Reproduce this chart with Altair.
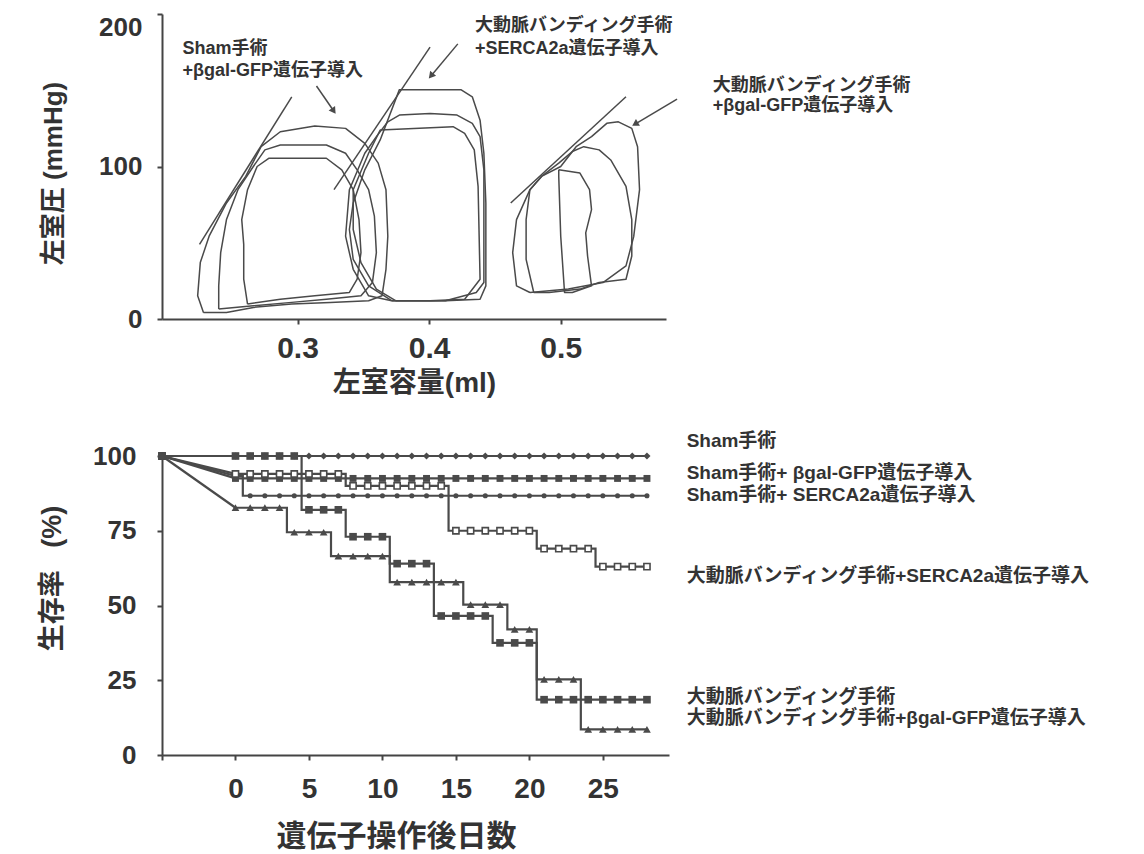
import altair as alt
import pandas as pd

GRAY = "#4a4a4a"
TEXT = "#333333"
FONT = "Liberation Sans, Noto Sans CJK JP"

# ---------------- Upper panel: pressure-volume loops (volume ml, pressure mmHg) ----------------
SHAM_LOOP_A = [(0.2285, 4.3), (0.2241, 15.2), (0.2261, 37.0), (0.2328, 54.3), (0.2460, 76.1),
               (0.2606, 93.5), (0.2723, 113.0), (0.2869, 122.8), (0.3131, 126.5), (0.3365, 125.0),
               (0.3511, 115.2), (0.3613, 102.2), (0.3672, 84.8), (0.3686, 54.3), (0.3672, 32.6),
               (0.3642, 15.2), (0.3540, 12.0), (0.3248, 10.9), (0.2956, 9.8), (0.2664, 7.6),
               (0.2460, 4.3), (0.2285, 4.3)]
SHAM_LOOP_B = [(0.2401, 6.5), (0.2401, 21.7), (0.2416, 43.5), (0.2460, 65.2), (0.2547, 84.8),
               (0.2664, 100.0), (0.2752, 110.9), (0.2869, 114.1), (0.3219, 114.1), (0.3365, 108.7),
               (0.3453, 97.8), (0.3540, 84.8), (0.3584, 67.4), (0.3599, 43.5), (0.3569, 23.9),
               (0.3482, 15.2), (0.3219, 13.0), (0.2956, 10.9), (0.2664, 8.7), (0.2401, 6.5)]
SHAM_LOOP_C = [(0.2620, 9.8), (0.2591, 26.1), (0.2591, 48.9), (0.2576, 65.2), (0.2620, 84.8),
               (0.2693, 100.0), (0.2781, 105.4), (0.3219, 105.4), (0.3336, 97.8), (0.3423, 84.8),
               (0.3467, 65.2), (0.3482, 43.5), (0.3453, 26.1), (0.3394, 17.4), (0.3131, 15.2),
               (0.2869, 13.0), (0.2620, 9.8)]
SERCA_LOOP_A = [(0.3715, 12.0), (0.3540, 21.7), (0.3423, 39.1), (0.3394, 58.7), (0.3423, 76.1),
                (0.3511, 97.8), (0.3628, 117.4), (0.3774, 150.4), (0.4241, 150.4), (0.4328, 145.7),
                (0.4387, 130.4), (0.4416, 108.7), (0.4431, 76.1), (0.4431, 21.7), (0.4387, 13.0),
                (0.4124, 12.0), (0.3715, 12.0)]
SERCA_LOOP_B = [(0.3715, 12.0), (0.3540, 15.2), (0.3423, 32.6), (0.3365, 54.3), (0.3394, 84.8),
                (0.3511, 108.7), (0.3599, 119.6), (0.3686, 129.3), (0.3774, 133.7), (0.4007, 134.8),
                (0.4212, 133.7), (0.4328, 128.3), (0.4387, 119.6), (0.4416, 97.8), (0.4416, 23.9),
                (0.4358, 17.4), (0.4124, 12.0), (0.3715, 12.0)]
SERCA_LOOP_C = [(0.3745, 12.0), (0.3599, 19.6), (0.3482, 37.0), (0.3423, 58.7), (0.3423, 84.8),
                (0.3540, 108.7), (0.3628, 123.9), (0.4182, 126.1), (0.4270, 121.7), (0.4343, 110.9),
                (0.4372, 87.0), (0.4387, 26.1), (0.4270, 13.0), (0.4007, 12.0), (0.3745, 12.0)]
GAL_LOOP_A = [(0.4766, 17.4), (0.5058, 19.6), (0.5321, 23.9), (0.5496, 34.8), (0.5555, 54.3),
              (0.5599, 84.8), (0.5584, 113.0), (0.5540, 125.0), (0.5438, 129.3), (0.5350, 128.3),
              (0.5234, 119.6), (0.5117, 113.0), (0.5000, 100.0), (0.4854, 93.5), (0.4766, 84.8),
              (0.4664, 65.2), (0.4635, 43.5), (0.4664, 21.7), (0.4766, 17.4)]
GAL_LOOP_B = [(0.4795, 17.4), (0.4912, 17.4), (0.5146, 19.6), (0.5292, 23.9), (0.5496, 26.1),
              (0.5540, 41.3), (0.5540, 65.2), (0.5496, 87.0), (0.5380, 104.3), (0.5292, 110.9),
              (0.5175, 113.0), (0.5088, 109.8), (0.4985, 102.2), (0.4854, 93.5), (0.4766, 84.8),
              (0.4737, 65.2), (0.4737, 39.1), (0.4795, 17.4)]
GAL_LOOP_C = [(0.4985, 97.8), (0.5146, 95.7), (0.5219, 84.8), (0.5234, 71.7), (0.5190, 56.5),
              (0.5204, 41.3), (0.5234, 21.7), (0.5088, 17.4), (0.5029, 17.4), (0.5000, 54.3),
              (0.4985, 93.5), (0.4985, 97.8)]
# end-systolic pressure-volume relation lines
ESPVR_SHAM = [(0.2255, 48.9), (0.2956, 145.7)]
ESPVR_SERCA = [(0.3277, 84.8), (0.4007, 178.3)]
ESPVR_GAL = [(0.4620, 76.1), (0.5496, 145.7)]

PV_TRACES = {
    "sham_a": SHAM_LOOP_A, "sham_b": SHAM_LOOP_B, "sham_c": SHAM_LOOP_C,
    "serca_a": SERCA_LOOP_A, "serca_b": SERCA_LOOP_B, "serca_c": SERCA_LOOP_C,
    "gal_a": GAL_LOOP_A, "gal_b": GAL_LOOP_B, "gal_c": GAL_LOOP_C,
    "espvr_sham": ESPVR_SHAM, "espvr_serca": ESPVR_SERCA, "espvr_gal": ESPVR_GAL,
}

# group labels and arrows
PV_LABEL_TEXT = ["Sham手術", "+βgal-GFP遺伝子導入",
                 "大動脈バンディング手術", "+SERCA2a遺伝子導入",
                 "大動脈バンディング手術", "+βgal-GFP遺伝子導入"]
PV_LABEL_VOL = [0.2125, 0.2125, 0.4348, 0.4348, 0.6156, 0.6156]
PV_LABEL_PRES = [177.0, 162.6, 192.2, 177.0, 152.8, 139.7]

ARROW_VOL = [0.3144, 0.4218, 0.5884]
ARROW_PRES = [152.8, 180.4, 144.2]
ARROW_VOL2 = [0.3275, 0.4014, 0.5565]
ARROW_PRES2 = [136.4, 159.4, 127.8]
ARROW_ANGLE = [146, 220, 239]

# ---------------- Lower panel: survival after gene transfer ----------------
GROUPS = ["Sham手術",
          "Sham手術+ βgal-GFP遺伝子導入",
          "Sham手術+ SERCA2a遺伝子導入",
          "大動脈バンディング手術+SERCA2a遺伝子導入",
          "大動脈バンディング手術",
          "大動脈バンディング手術+βgal-GFP遺伝子導入"]
# survival steps: (first day of the step, survival %)
SHAM_STEPS = [(0, 100.0)]
SHAM_GAL_STEPS = [(0, 92.5)]
SHAM_SERCA_STEPS = [(0, 93.3), (1, 86.7)]
BAND_SERCA_STEPS = [(0, 94.0), (8, 90.0), (15, 75.0), (21, 69.0), (25, 63.0)]
BAND_STEPS = [(0, 100.0), (5, 82.0), (8, 73.0), (11, 64.0), (14, 46.5), (18, 37.5), (21, 18.5)]
BAND_GAL_STEPS = [(0, 82.7), (4, 74.5), (7, 66.5), (11, 57.8), (16, 50.3), (19, 42.0),
                  (21, 25.3), (24, 8.6)]
GROUP_STEPS = [SHAM_STEPS, SHAM_GAL_STEPS, SHAM_SERCA_STEPS,
               BAND_SERCA_STEPS, BAND_STEPS, BAND_GAL_STEPS]
START_DAY = -5
START_PCT = 100.0
LAST_DAY = 28

# marker style per group: shape, filled, size
MARKERS = [("diamond", True, 50), ("square", True, 48), ("circle", True, 26),
           ("square", False, 38), ("square", True, 58), ("triangle-up", True, 60)]

GROUP_LABEL_DAY = 30.7
GROUP_LABEL_PCT = [105.0, 94.3, 86.9, 59.9, 19.5, 12.3]

# ---------------- tables ----------------
pv_rows = []
for name, pts in PV_TRACES.items():
    for i, (v, p) in enumerate(pts):
        pv_rows.append({"trace": name, "i": i, "vol": v, "pres": p})
pv_df = pd.DataFrame(pv_rows)

pv_label_df = pd.DataFrame({"vol": PV_LABEL_VOL, "pres": PV_LABEL_PRES, "text": PV_LABEL_TEXT})
arrow_df = pd.DataFrame({"vol": ARROW_VOL, "pres": ARROW_PRES, "vol2": ARROW_VOL2,
                         "pres2": ARROW_PRES2, "angle": ARROW_ANGLE})

step_rows, start_rows = [], []
for g, steps in zip(GROUPS, GROUP_STEPS):
    start_rows.append({"group": g, "day": START_DAY, "pct": START_PCT})
    start_rows.append({"group": g, "day": 0, "pct": steps[0][1]})
    for d in range(0, LAST_DAY + 1):
        val = [v for s, v in steps if s <= d][-1]
        step_rows.append({"group": g, "day": d, "pct": val})
step_df = pd.DataFrame(step_rows)
start_df = pd.DataFrame(start_rows)
marker_df = pd.concat([start_df[start_df.day == START_DAY], step_df], ignore_index=True)
group_label_df = pd.DataFrame({"day": [GROUP_LABEL_DAY] * len(GROUPS),
                               "pct": GROUP_LABEL_PCT, "text": GROUPS})

# ---------------- upper chart ----------------
xs_top = alt.Scale(domain=[0.197, 0.58], nice=False, zero=False)
ys_top = alt.Scale(domain=[0, 200], nice=False)
ax_top_x = alt.Axis(values=[0.3, 0.4, 0.5], format=".1f", title="左室容量(ml)",
                    labelFontSize=30, labelPadding=9, titleFontSize=28, titlePadding=6)
ax_top_y = alt.Axis(values=[0, 100, 200], title="左室圧 (mmHg)",
                    labelBaseline=alt.condition("datum.value == 200",
                                                alt.value("top"), alt.value("middle")),
                    labelFontSize=26, labelPadding=15, titleFontSize=26, titlePadding=32,
                    titleY=159)


def top_x(field):
    return alt.X(field, scale=xs_top, axis=ax_top_x)


def top_y(field):
    return alt.Y(field, scale=ys_top, axis=ax_top_y)


pv_lines = alt.Chart(pv_df).mark_line(color=GRAY, strokeWidth=1.5, strokeJoin="round").encode(
    x=top_x("vol:Q"), y=top_y("pres:Q"), detail="trace:N", order="i:Q")
pv_text = alt.Chart(pv_label_df).mark_text(
    align="left", baseline="middle", font=FONT, fontSize=18, fontWeight="bold", color=TEXT
).encode(x=top_x("vol:Q"), y=top_y("pres:Q"), text="text:N")
arrow_shaft = alt.Chart(arrow_df).mark_rule(color=GRAY, strokeWidth=1.5).encode(
    x=top_x("vol:Q"), y=top_y("pres:Q"), x2="vol2:Q", y2="pres2:Q")
arrow_head = alt.Chart(arrow_df).mark_point(
    shape="triangle-up", filled=True, size=60, color=GRAY, opacity=1
).encode(x=top_x("vol2:Q"), y=top_y("pres2:Q"), angle=alt.Angle("angle:Q", scale=None))

top = alt.layer(pv_lines, arrow_shaft, arrow_head, pv_text).properties(width=504, height=305)

# ---------------- lower chart ----------------
xs_bot = alt.Scale(domain=[-5, 29.5], nice=False, zero=False)
ys_bot = alt.Scale(domain=[0, 100], nice=False)
ax_bot_x = alt.Axis(values=[-5, 0, 5, 10, 15, 20, 25], title="遺伝子操作後日数",
                    labelExpr="datum.value < 0 ? '' : datum.label",
                    labelFontSize=28, labelPadding=15, titleFontSize=30, titlePadding=18,
                    titleX=234)
ax_bot_y = alt.Axis(values=[0, 25, 50, 75, 100], title="生存率\u00a0\u00a0\u00a0(%)",
                    labelFontSize=26, labelPadding=21, titleFontSize=27, titlePadding=26,
                    titleY=122)


def bot_x():
    return alt.X("day:Q", scale=xs_bot, axis=ax_bot_x)


def bot_y():
    return alt.Y("pct:Q", scale=ys_bot, axis=ax_bot_y)


step_lines = alt.Chart(step_df).mark_line(color=GRAY, strokeWidth=2.2, interpolate="step").encode(
    x=bot_x(), y=bot_y(), detail="group:N")
start_lines = alt.Chart(start_df).mark_line(color=GRAY, strokeWidth=2.2).encode(
    x=bot_x(), y=bot_y(), detail="group:N")

marker_layers = []
for g, (shape, filled, size) in zip(GROUPS, MARKERS):
    marker_layers.append(
        alt.Chart(marker_df[marker_df.group == g]).mark_point(
            shape=shape, filled=filled, size=size, color=GRAY, opacity=1,
            fill=GRAY if filled else "white", strokeWidth=1.6
        ).encode(x=bot_x(), y=bot_y())
    )

group_text = alt.Chart(group_label_df).mark_text(
    align="left", baseline="middle", font=FONT, fontSize=19, fontWeight="bold", color=TEXT
).encode(x=bot_x(), y=bot_y(), text="text:N")

bottom = alt.layer(step_lines, start_lines, *marker_layers, group_text).properties(
    width=507, height=299)

chart = alt.vconcat(top, bottom, spacing=137, bounds="flush").properties(
    padding={"left": 38, "top": 13, "right": 5, "bottom": 5}
).configure_view(stroke=None).configure_axis(
    grid=False,
    domainColor="#444444", domainWidth=2,
    tickColor="#444444", tickWidth=2, tickSize=5,
    labelFont="Liberation Sans", labelFontWeight="bold", labelColor=TEXT,
    titleFont=FONT, titleFontWeight="bold", titleColor=TEXT,
)

chart.save("out.html", embed_options={"renderer": "svg", "actions": False})
